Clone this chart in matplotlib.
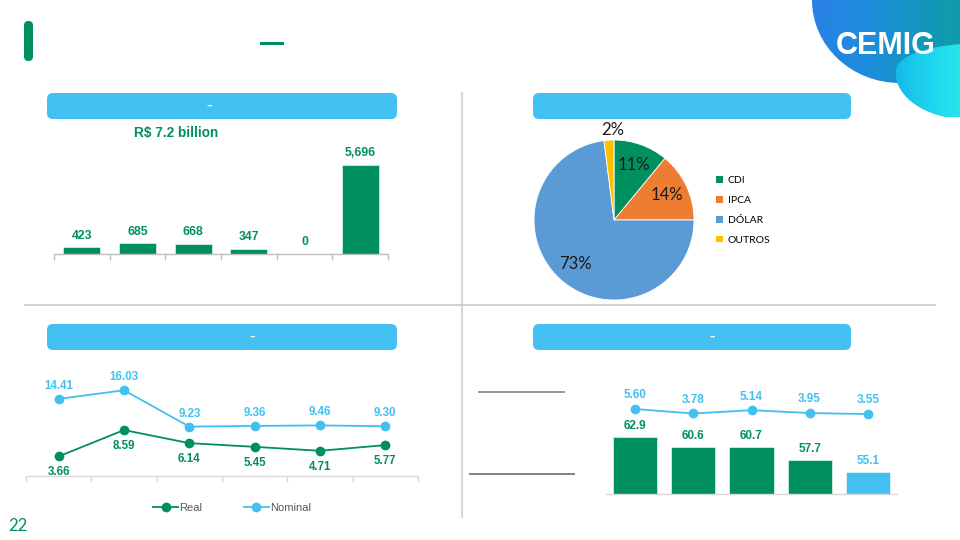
import os
import matplotlib
matplotlib.use("Agg")
import matplotlib.pyplot as plt
from matplotlib import font_manager as fm
from matplotlib.patches import FancyBboxPatch, Ellipse, PathPatch
from matplotlib.path import Path
from matplotlib.colors import LinearSegmentedColormap
import numpy as np

W, H = 960, 540
GREEN = "#008f5e"
SKY = "#42c0f1"
GRID = "#d9d9d9"

# --- data ---
AMORT = [423, 685, 668, 347, 0, 5696]
AMORT_TOTAL = "R$ 7.2 billion"

INDEX_LABELS = ["CDI", "IPCA", "DÓLAR", "OUTROS"]
INDEX_SHARES = [11, 14, 73, 2]
INDEX_COLORS = [GREEN, "#ed7d31", "#5b9bd5", "#ffc000"]

COST_REAL = [3.66, 8.59, 6.14, 5.45, 4.71, 5.77]
COST_NOMINAL = [14.41, 16.03, 9.23, 9.36, 9.46, 9.30]

TENOR_BARS = [62.9, 60.6, 60.7, 57.7, 55.1]
TENOR_LINE = [5.60, 3.78, 5.14, 3.95, 3.55]


def font_file(name):
    for f in fm.findSystemFonts():
        if os.path.basename(f) == name:
            return f
    return None


BOLD_FILE = font_file("LiberationSans-Bold.ttf")


def bold(size):
    if BOLD_FILE:
        return fm.FontProperties(fname=BOLD_FILE, size=size)
    return fm.FontProperties(family="Liberation Sans", weight="bold", size=size)


def px(x0, y0, x1, y1):
    """pixel box (top-left origin) -> figure rect"""
    return [x0 / W, 1 - y1 / H, (x1 - x0) / W, (y1 - y0) / H]


def boundary_axis(ax, n, color):
    ax.set_xlim(-0.5, n - 0.5)
    for s in ("top", "right", "left"):
        ax.spines[s].set_visible(False)
    ax.spines["bottom"].set_color(color)
    ax.spines["bottom"].set_linewidth(1.0)
    ax.set_xticks([])
    ax.set_xticks(np.arange(-0.5, n, 1), minor=True)
    ax.tick_params(axis="x", which="minor", length=4, color=color, width=1.0)
    ax.set_yticks([])
    ax.patch.set_alpha(0)


fig = plt.figure(figsize=(9.6, 5.4), dpi=100)

# --- slide decoration ---
bg = fig.add_axes([0, 0, 1, 1])
bg.axis("off")

bg.add_patch(FancyBboxPatch((24, 21), 9, 40, boxstyle="round,pad=0,rounding_size=4.5",
                            fc=GREEN, ec="none"))
bg.add_patch(FancyBboxPatch((260, 42), 24, 3, boxstyle="square,pad=0", fc=GREEN, ec="none"))

pills = [((47, 93, 397, 119), 209), ((533, 93, 851, 119), None),
         ((47, 324, 397, 350), 252), ((533, 324, 851, 350), 712)]
for (x0, y0, x1, y1), dash_x in pills:
    bg.add_patch(FancyBboxPatch((x0, y0), x1 - x0, y1 - y0,
                                boxstyle="round,pad=0,rounding_size=6", fc=SKY, ec="none"))
    if dash_x:
        bg.text(dash_x, (y0 + y1) / 2, "–", color="white", fontsize=8, ha="center",
                va="center", fontweight="bold")

bg.plot([462, 462], [93, 517], color=GRID, lw=1.6)
bg.plot([25, 935], [305, 305], color="#c8c8c8", lw=1.2)

bg.plot([479, 564], [392, 392], color="#9a9a9a", lw=1.4)
bg.plot([470, 574], [474, 474], color="#808080", lw=1.4)

bg.text(8, 526, "22", color=GREEN, fontsize=12, family="Lato", va="center", ha="left")

# logo blob
grad = np.linspace(0, 1, 256).reshape(1, -1)
cm_blue = LinearSegmentedColormap.from_list("b", ["#2d7fe8", "#1c8ddc", "#1297b8", "#0fa096"])
blob = Ellipse((900, 0), 176, 166, transform=bg.transData)
im = bg.imshow(grad, extent=(805, 990, 100, -20), cmap=cm_blue, aspect="auto", zorder=1)
im.set_clip_path(blob)
cm_cyan = LinearSegmentedColormap.from_list("c", ["#14b4e8", "#1ed2ee", "#26e8ea"])
wave = Path([(962, 44), (935, 46), (905, 52), (897, 66),
             (891, 82), (905, 108), (945, 117), (962, 117), (962, 44)],
            [Path.MOVETO, Path.CURVE4, Path.CURVE4, Path.CURVE4,
             Path.CURVE4, Path.CURVE4, Path.CURVE4, Path.LINETO, Path.CLOSEPOLY])
blob2 = PathPatch(wave, transform=bg.transData)
im2 = bg.imshow(grad, extent=(890, 962, 120, 40), cmap=cm_cyan, aspect="auto", zorder=2)
im2.set_clip_path(blob2)
bg.set_xlim(0, W)
bg.set_ylim(H, 0)
bg.text(886, 46, "CEMIG", color="white", fontproperties=bold(22), ha="center", va="center",
        zorder=3)

# --- top-left: amortization bars ---
ax1 = fig.add_axes(px(54, 140, 388, 254))
boundary_axis(ax1, len(AMORT), "#bfbfbf")
x = np.arange(len(AMORT))
ax1.set_ylim(0, 7296)
ax1.bar(x, AMORT, width=0.66, color=GREEN, edgecolor="white", linewidth=0.4)
for xi, v in zip(x, AMORT):
    ax1.annotate(f"{v:,}", (xi, v), xytext=(0, 4), textcoords="offset points", ha="center",
                 va="bottom", color=GREEN, fontproperties=bold(8.8))
fig.text(176 / W, 1 - 133 / H, AMORT_TOTAL, color=GREEN, fontproperties=bold(9.8),
         ha="center", va="center")

# --- top-right: indexer pie ---
ax2 = fig.add_axes(px(534, 140, 694, 300))
wedges, _, autotexts = ax2.pie(INDEX_SHARES, colors=INDEX_COLORS, startangle=90, counterclock=False,
                               autopct="%d%%", pctdistance=0.73,
                               wedgeprops=dict(edgecolor="white", linewidth=0.6),
                               textprops=dict(fontsize=12, family="Lato", color="#1a1a1a"))
w = wedges[-1]
ang = np.deg2rad((w.theta1 + w.theta2) / 2)
autotexts[-1].set_position((1.13 * np.cos(ang) + 0.05, 1.13 * np.sin(ang)))
ax2.set_xlim(-1, 1)
ax2.set_ylim(-1, 1)
handles = [plt.Rectangle((0, 0), 1, 1, fc=c) for c in INDEX_COLORS]
ax2.legend(handles, INDEX_LABELS, loc="center left", bbox_to_anchor=(1.14, 0.56), frameon=False,
           prop=dict(family="Lato", size=7.5), handlelength=0.6, handleheight=0.6,
           handletextpad=0.5, labelspacing=1.05, borderpad=0, borderaxespad=0)

# --- bottom-left: cost of debt lines ---
ax3 = fig.add_axes(px(26, 369, 418, 476))
boundary_axis(ax3, len(COST_REAL), GRID)
ax3.set_ylim(0, 20)
x = np.arange(len(COST_REAL))
ax3.plot(x, COST_REAL, color=GREEN, lw=1.3, marker="o", ms=6, label="Real")
ax3.plot(x, COST_NOMINAL, color=SKY, lw=1.3, marker="o", ms=6, label="Nominal")
for xi, v in zip(x, COST_NOMINAL):
    ax3.annotate(f"{v:.2f}", (xi, v), xytext=(0, 5), textcoords="offset points", ha="center",
                 va="bottom", color=SKY, fontproperties=bold(8.3))
for xi, v in zip(x, COST_REAL):
    ax3.annotate(f"{v:.2f}", (xi, v), xytext=(0, -7), textcoords="offset points", ha="center",
                 va="top", color=GREEN, fontproperties=bold(8.3))
ax3.legend(loc="center", bbox_to_anchor=(232 / W, 1 - 508 / H), bbox_transform=fig.transFigure,
           ncol=2, frameon=False, prop=dict(family="Liberation Sans", size=8),
           labelcolor="#595959", handlelength=2.2, handletextpad=0.1, columnspacing=3.8)

# --- bottom-right: tenor bars + line ---
ax4 = fig.add_axes(px(606, 380, 897, 494))
boundary_axis(ax4, len(TENOR_BARS), GRID)
ax4.tick_params(axis="x", which="minor", length=0)
ax4.set_ylim(50.2, 75.5)
x = np.arange(len(TENOR_BARS))
bar_colors = [GREEN] * (len(TENOR_BARS) - 1) + [SKY]
ax4.bar(x, TENOR_BARS, width=0.76, color=bar_colors, edgecolor="white", linewidth=0.4)
for xi, v, c in zip(x, TENOR_BARS, bar_colors):
    ax4.annotate(f"{v:.1f}", (xi, v), xytext=(0, 3.5), textcoords="offset points", ha="center",
                 va="bottom", color=c, fontproperties=bold(8.5))
ax5 = ax4.twinx()
ax5.set_ylim(-29.2, 17.5)
for s in ax5.spines.values():
    s.set_visible(False)
ax5.set_yticks([])
ax5.plot(x, TENOR_LINE, color=SKY, lw=1.3, marker="o", ms=6)
for xi, v in zip(x, TENOR_LINE):
    ax5.annotate(f"{v:.2f}", (xi, v), xytext=(0, 5.5), textcoords="offset points", ha="center",
                 va="bottom", color=SKY, fontproperties=bold(8.5))

fig.savefig("out.png", dpi=100)
